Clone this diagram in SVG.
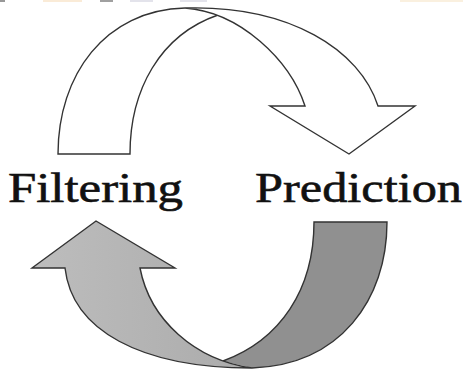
<svg xmlns="http://www.w3.org/2000/svg" width="466" height="370" viewBox="0 0 466 370">
  <style>
    .edge { stroke: #333; stroke-width: 1.4; stroke-linejoin: miter; }
    .white { fill: #fff; }
    .light { fill: url(#lightGrad); }
    .dark { fill: #909090; }
    .label { font-family: "Liberation Serif", "Times New Roman", serif; font-size: 43px; fill: #111; stroke: #111; stroke-width: 0.6; }
  </style>
  <defs>
    <linearGradient id="lightGrad" x1="0" y1="0" x2="1" y2="0">
      <stop offset="0" stop-color="#bdbdbd"/>
      <stop offset="1" stop-color="#ababab"/>
    </linearGradient>
  </defs>
  <rect width="466" height="370" fill="#fff"/>
  <g id="top-strip" opacity="0.5">
    <rect x="0" y="0" width="5" height="2" fill="#333"/>
    <rect x="43" y="0" width="39" height="2" fill="#f6d9b0"/>
    <rect x="100" y="0" width="13" height="2" fill="#444"/>
    <rect x="130" y="0" width="23" height="2" fill="#c8c8d8"/>
    <rect x="180" y="0" width="27" height="2" fill="#c8c8d8"/>
    <rect x="400" y="0" width="63" height="2" fill="#f6e2c0"/>
  </g>
  <g id="connectors">
    <g id="arrow-top">
      <path class="white" d="M58,154 C58,75 105,10 185,8 L218,15 C160,35 130,90 130,154 Z"/>
      <path class="edge" fill="none" d="M218,15 C160,35 130,90 130,154 L58,154 C58,75 105,10 185,8"/>
      <path class="white edge" d="M185,8 C290,5 360,50 378,106 L415,106 L349,154 L270,106 L305,106 C290,60 240,12 185,8 Z"/>
    </g>
    <g id="arrow-bottom">
      <path class="dark" d="M314,222 L387,222 C387,300 340,365 252,368 L223,361 C280,340 314,290 314,222 Z"/>
      <path class="edge" fill="none" d="M223,361 C280,340 314,290 314,222 L387,222 C387,300 340,365 252,368"/>
      <path class="light edge" d="M140,268 L175,268 L96,221 L32,268 L65,268 C72,330 140,368 252,368 C195,360 150,320 140,268 Z"/>
    </g>
  </g>
  <g id="node-filtering">
    <text class="label" x="8" y="202" textLength="175" lengthAdjust="spacingAndGlyphs">Filtering</text>
  </g>
  <g id="node-prediction">
    <text class="label" x="255" y="202" textLength="207" lengthAdjust="spacingAndGlyphs">Prediction</text>
  </g>
</svg>
